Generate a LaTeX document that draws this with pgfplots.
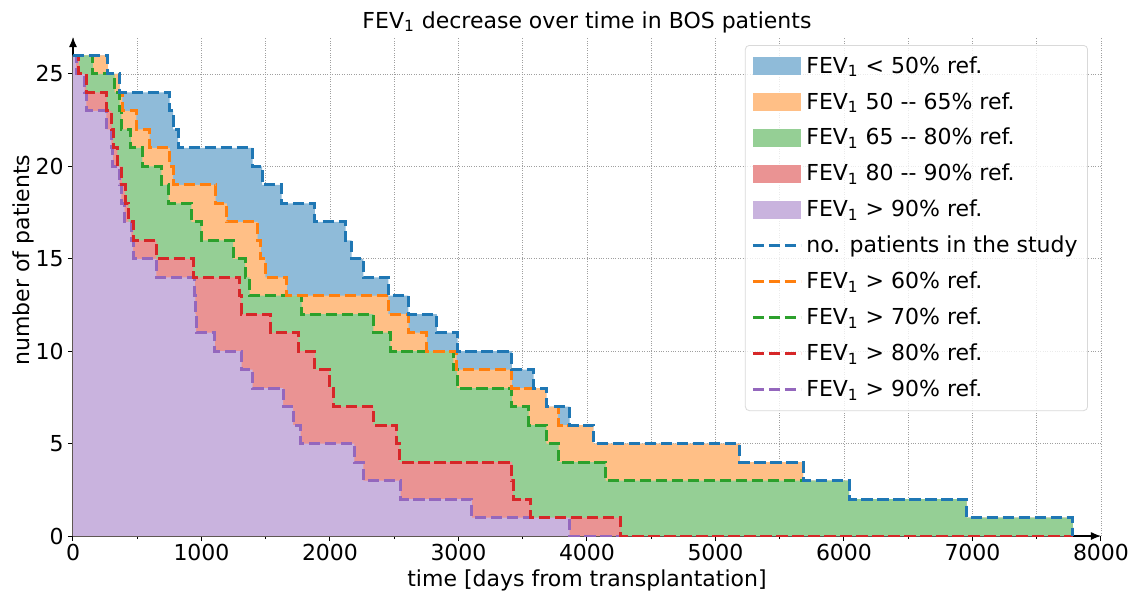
\documentclass[border=0pt]{standalone}
\usepackage{fontspec}
\setmainfont{DejaVu Sans}
\usepackage{pgfplots}
\usepackage{pgfplotstable}
\pgfplotsset{compat=1.18}
\usetikzlibrary{arrows.meta}
\definecolor{cB}{HTML}{1F77B4}
\definecolor{cO}{HTML}{FF7F0E}
\definecolor{cG}{HTML}{2CA02C}
\definecolor{cR}{HTML}{D62728}
\definecolor{cP}{HTML}{9467BD}
\definecolor{fB}{HTML}{8FBBD9}
\definecolor{fO}{HTML}{FFBF86}
\definecolor{fG}{HTML}{95CF95}
\definecolor{fR}{HTML}{EA9393}
\definecolor{fP}{HTML}{C9B3DE}
\pgfplotsset{
  patchlegend/.style={legend image code/.code={\fill[##1, sharp corners, fill opacity=1] (-1pt,-4.5pt) rectangle (23pt,4.5pt);}},
  linelegend/.style={legend image code/.code={\draw[##1, sharp corners, draw opacity=1] (-1pt,0pt) -- (23pt,0pt);}},
  dl/.style={line width=1.5pt, dash pattern=on 5.6pt off 2.4pt},
}

\pgfplotstableread{
x y
0 26
270 25
363 24
752 23
779 22
818 21
1397 20
1472 19
1623 18
1883 17
2122 16
2169 15
2260 14
2455 13
2610 12
2832 11
2993 10
3416 9
3585 8
3684 7
3865 6
4050 5
5190 4
5681 3
6040 2
6955 1
7781 0
}\tblue

\pgfplotstableread{
x y
0 26
272 25
363 24
385 23
493 22
597 21
753 20
779 19
1110 18
1197 17
1436 16
1462 15
1497 14
1665 13
2455 12
2611 11
2753 10
2985 9
3416 8
3684 7
3775 6
4050 5
5190 4
5681 3
6040 2
6955 1
7781 0
}\torange

\pgfplotstableread{
x y
0 26
155 25
324 24
363 23
376 22
450 21
540 20
688 19
745 18
922 17
1000 16
1247 15
1340 14
1375 13
1779 12
2338 11
2470 10
2961 9
2990 8
3416 7
3546 6
3684 5
3780 4
4144 3
6040 2
6955 1
7781 0
}\tgreen

\pgfplotstableread{
x y
0 26
46 25
104 24
262 23
300 22
315 21
345 20
380 19
405 18
430 17
470 16
649 15
935 14
1299 13
1310 12
1540 11
1753 10
1883 9
1993 8
2026 7
2338 6
2520 5
2540 4
3416 3
3425 2
3559 1
4261 0
7781 0
}\tred

\pgfplotstableread{
x y
0 26
25 25
90 24
105 23
259 22
298 21
311 20
363 19
376 18
402 17
455 16
467 15
649 14
948 13
952 12
958 11
1104 10
1312 9
1398 8
1636 7
1714 6
1771 5
2190 4
2260 3
2550 2
3104 1
3865 0
7781 0
}\tpurple

\begin{document}
\fontsize{11}{13}\selectfont
\begin{tikzpicture}
\useasboundingbox (-36.5pt,-27.5pt) rectangle (527.5pt,268pt);
\begin{axis}[
  scale only axis, width=514pt, height=249.5pt,
  at={(0,0)}, anchor=south west,
  xmin=0, xmax=8000, ymin=0, ymax=27,
  axis lines=left,
  axis line style={line width=0.6pt, -{Latex[length=5pt,width=4pt]}},
  xtick={0,1000,...,8000}, minor xtick={500,1500,...,7500},
  ytick={0,5,...,25},
  grid=both,
  major grid style={gray!75, line width=0.4pt, dash pattern=on 0.5pt off 0.7pt},
  minor grid style={gray!75, line width=0.4pt, dash pattern=on 0.5pt off 0.7pt},
  tick align=outside, major tick length=2.5pt, minor tick length=1.5pt,
  tick style={black, line width=0.5pt},
  /pgf/number format/assume math mode=true,
  /pgf/number format/1000 sep={},
  scaled ticks=false,
  tick label style={font=\fontsize{11}{13}\selectfont},
  xticklabel style={inner sep=1.5pt},
  yticklabel style={inner sep=2pt},
  title={FEV\textsubscript{1} decrease over time in BOS patients},
  title style={at={(axis description cs:0.5,1)}, anchor=base, yshift=-1.5pt, font=\fontsize{11}{13}\selectfont},
  xlabel={time [days from transplantation]},
  xlabel style={at={(axis description cs:0.5,0)}, anchor=base, yshift=-25pt, font=\fontsize{11}{13}\selectfont},
  ylabel={number of patients},
  ylabel style={at={(axis description cs:-0.042,0.553)}, anchor=base, font=\fontsize{11}{13}\selectfont},
  legend cell align=left,
  linelegend,
  legend style={at={(axis description cs:1,1)}, anchor=north east, xshift=-6.5pt, yshift=-4pt,
    draw=black!15, rounded corners=2pt, fill=white, fill opacity=0.8, text opacity=1, draw opacity=1,
    inner xsep=3pt, inner ysep=3.5pt, row sep=3.95pt, font=\fontsize{11}{13}\selectfont},
  every axis plot/.append style={const plot},
]
% stacked fills
\addplot[fill=fB, draw=none, patchlegend] table {\tblue} \closedcycle;
\addlegendentry{FEV\textsubscript{1} < 50\% ref.}
\addplot[fill=fO, draw=none, patchlegend] table {\torange} \closedcycle;
\addlegendentry{FEV\textsubscript{1} 50 -{}- 65\% ref.}
\addplot[fill=fG, draw=none, patchlegend] table {\tgreen} \closedcycle;
\addlegendentry{FEV\textsubscript{1} 65 -{}- 80\% ref.}
\addplot[fill=fR, draw=none, patchlegend] table {\tred} \closedcycle;
\addlegendentry{FEV\textsubscript{1} 80 -{}- 90\% ref.}
\addplot[fill=fP, draw=none, patchlegend] table {\tpurple} \closedcycle;
\addlegendentry{FEV\textsubscript{1} > 90\% ref.}
% legend images for lines
\addlegendimage{cB, dl}
\addlegendentry{no. patients in the study}
\addlegendimage{cO, dl}
\addlegendentry{FEV\textsubscript{1} > 60\% ref.}
\addlegendimage{cG, dl}
\addlegendentry{FEV\textsubscript{1} > 70\% ref.}
\addlegendimage{cR, dl}
\addlegendentry{FEV\textsubscript{1} > 80\% ref.}
\addlegendimage{cP, dl}
\addlegendentry{FEV\textsubscript{1} > 90\% ref.}
% dashed step lines
\addplot[cP, dl, forget plot] table {\tpurple};
\addplot[cR, dl, forget plot] table {\tred};
\addplot[cG, dl, forget plot] table {\tgreen};
\addplot[cO, dl, forget plot] table {\torange};
\addplot[cB, dl, forget plot] table {\tblue};
\end{axis}
\end{tikzpicture}
\end{document}
